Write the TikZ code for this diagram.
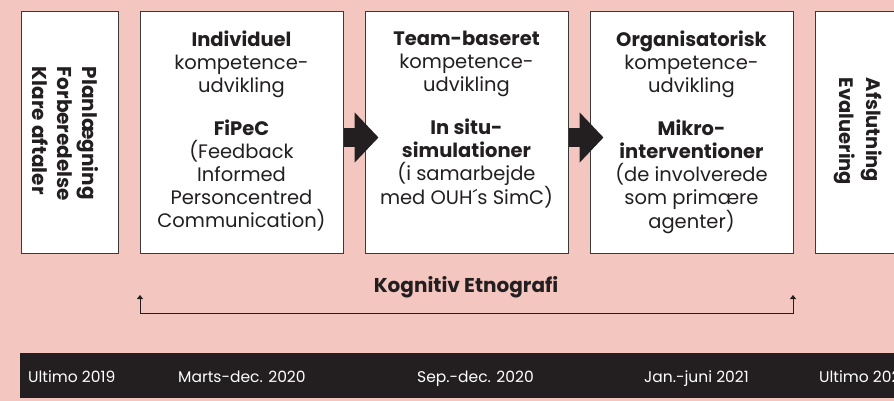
\documentclass[tikz,border=0pt]{standalone}
\usepackage{fontspec}
\setmainfont{Poppins}
\usetikzlibrary{arrows.meta}
\definecolor{bg}{HTML}{F3C6BF}
\definecolor{ink}{HTML}{231F20}
\definecolor{edge}{HTML}{3A3A3A}
\begin{document}
\begin{tikzpicture}[x=1pt,y=-1pt,
  stage/.style={draw=edge, line width=1pt, fill=white, inner sep=0pt, minimum height=241pt},
  wide/.style={stage, minimum width=203pt},
  boxtext/.style={text=ink, align=center, inner sep=0pt, anchor=north,
    font=\fontsize{19.5}{23}\selectfont},
  sidetext/.style={text=ink, align=left, inner sep=0pt, rotate=-90,
    font=\bfseries\fontsize{20}{25}\selectfont},
  blockarrow/.style={draw=ink, line width=19pt, -{Triangle[length=24pt,width=49pt]}},
  bracket/.style={draw=ink, line width=1pt, {Triangle[length=4pt,width=6pt]}-{Triangle[length=4pt,width=6pt]}},
  barlabel/.style={text=white, inner sep=0pt, anchor=base west, font=\fontsize{15.5}{18}\selectfont}]
\useasboundingbox (0,0) rectangle (894,401);
\clip (0,0) rectangle (894,401);
\fill[bg] (0,0) rectangle (894,401);

% stage boxes
\node[stage, minimum width=97pt] (b1) at (69.5,132.5) {};
\node[wide] (b2) at (241.5,132.5) {};
\node[wide] (b3) at (466.5,132.5) {};
\node[wide] (b4) at (691.5,132.5) {};
\node[wide] (b5) at (916.5,132.5) {};

% texts
\node[sidetext] (t1) at (65,134) {Planlægning\\Forberedelse\\Klare aftaler};
\node[boxtext] (t2) at (241.5,30.5) {\textbf{Individuel}\\kompetence-\\udvikling\\[20pt]\textbf{FiPeC}\\(Feedback\\Informed\\Personcentred\\Communication)};
\node[boxtext] (t3) at (466.5,30.5) {\textbf{Team-baseret}\\kompetence-\\udvikling\\[20pt]\textbf{In situ-}\\\textbf{simulationer}\\(i samarbejde\\med OUH´s SimC)};
\node[boxtext] (t4) at (691.5,30.5) {\textbf{Organisatorisk}\\kompetence-\\udvikling\\[20pt]\textbf{Mikro-}\\\textbf{interventioner}\\(de involverede\\som primære\\agenter)};
\node[sidetext, font=\bfseries\fontsize{19.5}{27}\selectfont] (t5) at (858.5,131.5) {Afslutning\\Evaluering};

% block arrows
\draw[blockarrow] ([yshift=-5pt]b2.east) -- ([xshift=14pt,yshift=-5pt]b3.west);
\draw[blockarrow] ([yshift=-5pt]b3.east) -- ([xshift=14pt,yshift=-5pt]b4.west);

% Kognitiv Etnografi bracket
\coordinate (kl) at (140,295);
\coordinate (kr) at (793,295);
\draw[bracket] (kl) -- ([yshift=-18pt]kl) -- ([yshift=-18pt]kr) -- (kr);
\node[text=ink, inner sep=0pt, anchor=base, font=\bfseries\fontsize{20}{22}\selectfont] (ke) at (466,292) {Kognitiv Etnografi};

% timeline bar
\node[fill=ink, inner sep=0pt, anchor=north west, minimum width=900pt, minimum height=45pt] (bar) at (20,353) {};
\node[barlabel] (d1) at (28,382) {Ultimo 2019};
\node[barlabel] (d2) at (178,382) {Marts-dec. 2020};
\node[barlabel] (d3) at (417,382) {Sep.-dec. 2020};
\node[barlabel] (d4) at (644,382) {Jan.-juni 2021};
\node[barlabel] (d5) at (819,382) {Ultimo 2021};
\end{tikzpicture}
\end{document}
